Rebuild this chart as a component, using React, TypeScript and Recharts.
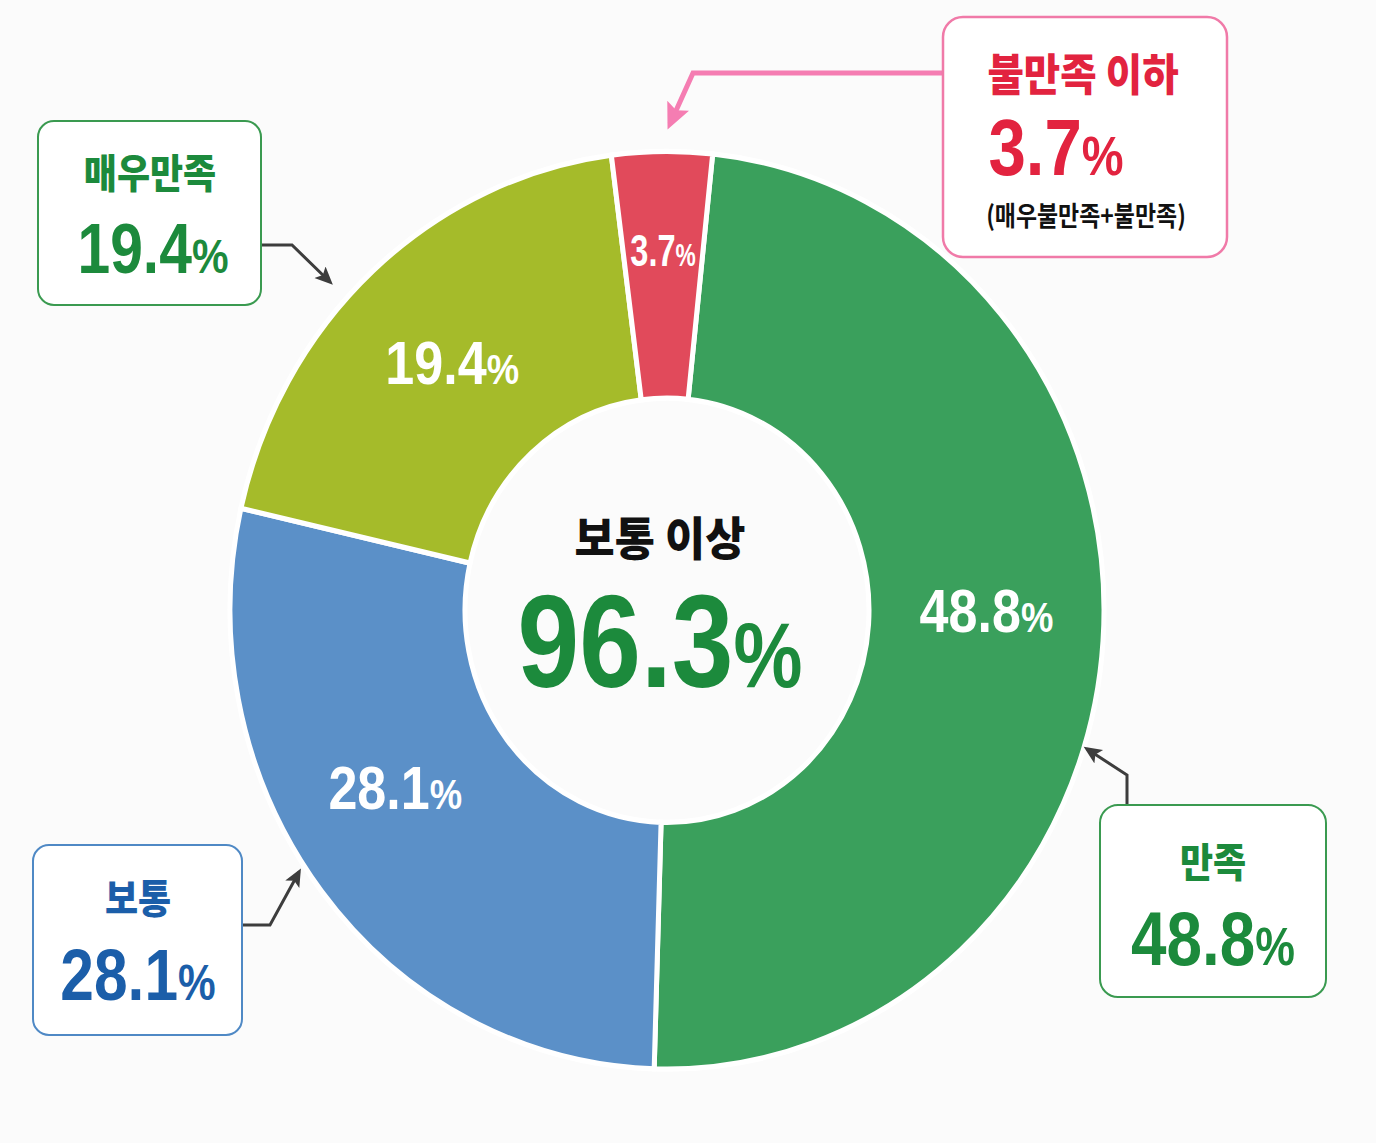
import { PieChart, Pie, Cell } from 'recharts';

const categories = ['만족', '보통', '매우만족', '불만족 이하'];
const values = [48.8, 28.1, 19.4, 3.7];
const colors = ['#3aa05c', '#5b90c8', '#a5bb2a', '#e14a5b'];

const RADIAN = Math.PI / 180;
const SY = 1.05;
const FONT = "'Liberation Sans', Arial, sans-serif";
const KFONT = "'Noto Sans CJK KR', sans-serif";
// small angular nudges for the in-ring labels
const labelNudge = [4, -6, 0, 0];

const chartData = categories.map((name, i) => ({ name, value: values[i] }));

// label inside each ring segment
const renderLabel = (p: any) => {
  const small = p.index === 3;
  const r = p.innerRadius + (p.outerRadius - p.innerRadius) * (small ? 0.6 : 0.5);
  const a = (p.midAngle + labelNudge[p.index]) * RADIAN;
  const x = p.cx + r * Math.cos(-a);
  const y = p.cy + r * Math.sin(-a);
  const size = small ? 44 : 62;
  return (
    <g transform={`translate(${x},${y}) scale(${small ? 0.74 : 0.84},${1 / SY})`}>
      <text textAnchor="middle" dy={size * 0.36} fill="#fff" fontFamily={FONT} fontWeight={700} fontSize={size}>
        {p.value.toFixed(1)}
        <tspan fontSize={size * 0.7}>%</tspan>
      </text>
    </g>
  );
};

function T({ x, y, size, color, children, sx = 0.9, weight = 900, font = KFONT }: any) {
  return (
    <g transform={`translate(${x},${y}) scale(${sx},1)`}>
      <text textAnchor="middle" fill={color} fontFamily={font} fontWeight={weight} fontSize={size}>
        {children}
      </text>
    </g>
  );
}

function Pct({ x, y, size, color, v }: any) {
  return (
    <T x={x} y={y} size={size} color={color} sx={0.84} weight={700} font={FONT}>
      {v.toFixed(1)}
      <tspan fontSize={size * 0.7}>%</tspan>
    </T>
  );
}

export default function App() {
  const upper = values.slice(0, 3).reduce((a, b) => a + b, 0);
  const green = '#1c8a3c';
  const blue = '#1b5ea9';
  const red = '#e2233f';
  return (
    <div style={{ position: 'absolute', left: 0, top: 0, width: 1376, height: 1143, background: '#fbfbfb', overflow: 'hidden' }}>
      <div style={{ position: 'absolute', left: 0, top: 0, width: 1376, height: 1143, transform: `scaleY(${SY})`, transformOrigin: '662px 605px' }}>
        <PieChart width={1376} height={1143}>
          <Pie
            data={chartData}
            dataKey="value"
            cx={662}
            cy={605}
            innerRadius={202}
            outerRadius={437}
            startAngle={84}
            endAngle={-276}
            stroke="#ffffff"
            strokeWidth={5}
            label={renderLabel}
            labelLine={false}
            isAnimationActive={false}
          >
            {chartData.map((d, i) => (
              <Cell key={d.name} fill={colors[i]} />
            ))}
          </Pie>
        </PieChart>
      </div>
      <svg width={1376} height={1143} style={{ position: 'absolute', left: 0, top: 0, pointerEvents: 'none' }}>
        <defs>
          <marker id="ad" markerUnits="userSpaceOnUse" markerWidth={22} markerHeight={22} refX={14} refY={8} orient="auto">
            <path d="M0,0 L18,8 L0,16 L4,8 Z" fill="#3d3d3d" />
          </marker>
          <marker id="ap" markerUnits="userSpaceOnUse" markerWidth={30} markerHeight={30} refX={20} refY={12} orient="auto">
            <path d="M0,0 L26,12 L0,24 L5,12 Z" fill="#f57db2" />
          </marker>
        </defs>

        {/* center */}
        <T x={660} y={555} size={46} color="#111" sx={0.95}>
          보통 이상
        </T>
        <Pct x={660} y={687} size={132} color={green} v={upper} />

        {/* arrows */}
        <path d="M943 73 H693 L670 124" fill="none" stroke="#f57db2" strokeWidth={5} markerEnd="url(#ap)" />
        <path d="M262 245 H292 L330 282" fill="none" stroke="#3d3d3d" strokeWidth={3} markerEnd="url(#ad)" />
        <path d="M242 925 H270 L299 872" fill="none" stroke="#3d3d3d" strokeWidth={3} markerEnd="url(#ad)" />
        <path d="M1127 805 V775 L1087 749" fill="none" stroke="#3d3d3d" strokeWidth={3} markerEnd="url(#ad)" />

        {/* 불만족 이하 */}
        <rect x={943} y={17} width={284} height={240} rx={20} fill="#fff" stroke="#f07aa8" strokeWidth={2.5} />
        <T x={1083} y={91} size={44} color={red}>
          {categories[3]}
        </T>
        <Pct x={1056} y={175} size={80} color={red} v={values[3]} />
        <T x={1086} y={226} size={27} color="#111" sx={0.85} weight={700}>
          (매우불만족+불만족)
        </T>

        {/* 매우만족 */}
        <rect x={38} y={121} width={223} height={184} rx={16} fill="#fff" stroke="#3a9a50" strokeWidth={2} />
        <T x={150} y={188} size={40} color={green}>
          {categories[2]}
        </T>
        <Pct x={153} y={273} size={70} color={green} v={values[2]} />

        {/* 보통 */}
        <rect x={33} y={845} width={209} height={190} rx={16} fill="#fff" stroke="#4f89c5" strokeWidth={2} />
        <T x={138} y={913} size={40} color={blue}>
          {categories[1]}
        </T>
        <Pct x={138} y={1000} size={72} color={blue} v={values[1]} />

        {/* 만족 */}
        <rect x={1100} y={805} width={226} height={192} rx={18} fill="#fff" stroke="#3a9a50" strokeWidth={2} />
        <T x={1213} y={877} size={40} color={green}>
          {categories[0]}
        </T>
        <Pct x={1213} y={965} size={76} color={green} v={values[0]} />
      </svg>
    </div>
  );
}
